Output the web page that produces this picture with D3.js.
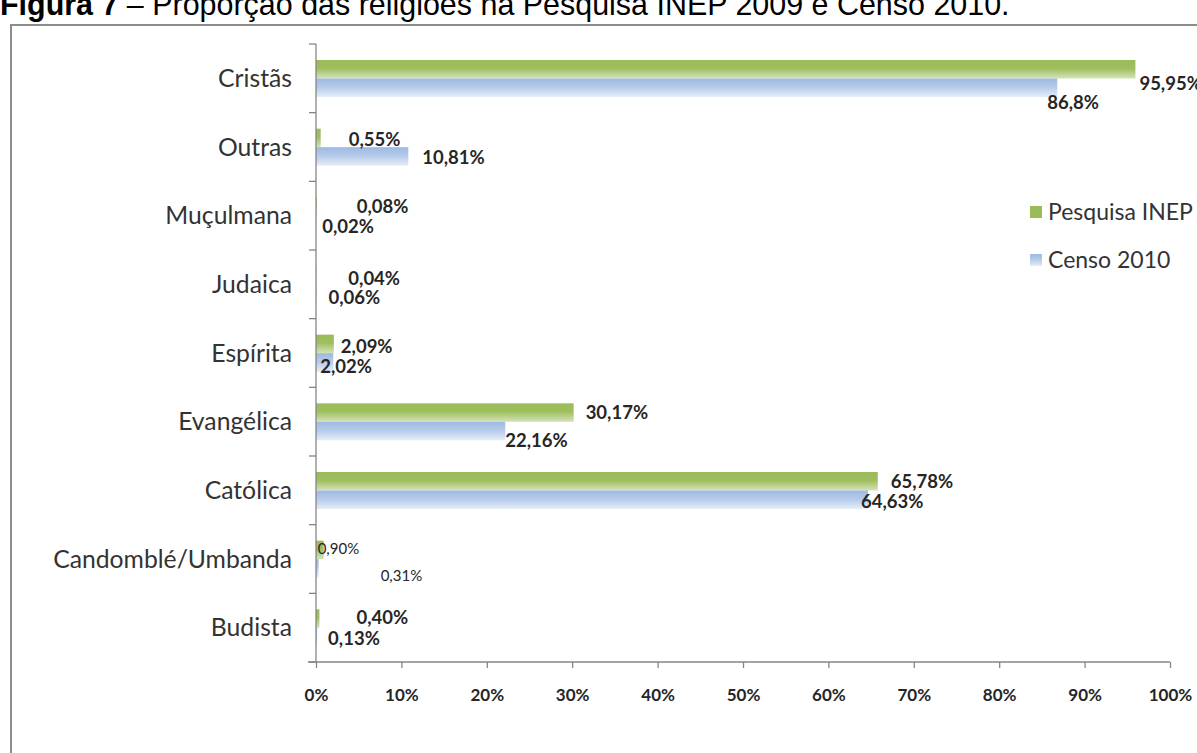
<!DOCTYPE html>
<html><head><meta charset="utf-8">
<script src="https://cdn.jsdelivr.net/npm/d3@7"></script>
<style>
html,body{margin:0;padding:0;background:#fff;overflow:hidden;}
svg{display:block;}
</style></head>
<body>
<svg id="c" width="1197" height="753"></svg>
<script>
// ---- data ----
const categories = ["Cristãs","Outras","Muçulmana","Judaica","Espírita","Evangélica","Católica","Candomblé/Umbanda","Budista"];
const seriesNames = ["Pesquisa INEP","Censo 2010"];
const inepValues  = [95.95, 0.55, 0.08, 0.04, 2.09, 30.17, 65.78, 0.90, 0.40];
const censoValues = [86.8, 10.81, 0.02, 0.06, 2.02, 22.16, 64.63, 0.31, 0.13];
const inepLabels  = ["95,95%","0,55%","0,08%","0,04%","2,09%","30,17%","65,78%","0,90%","0,40%"];
const censoLabels = ["86,8%","10,81%","0,02%","0,06%","2,02%","22,16%","64,63%","0,31%","0,13%"];
const tickValues = [0,10,20,30,40,50,60,70,80,90,100];
const tickLabels = ["0%","10%","20%","30%","40%","50%","60%","70%","80%","90%","100%"];
const titleBold = "Figura 7";
const titleRest = " – Proporção das religiões na Pesquisa INEP 2009 e Censo 2010.";

// label nudges (layout, px) relative to bar end / bar centre
const inepDx  = [4, 28, 40, 32, 7, 12, 13, -6, 37];
const inepDy  = [14, 2, 0, 3, 3, 0, 0, -1, -1];
const censoDx = [-10, 14, 6, 12, -13, 0, -7, 62, 11];
const censoDy = [15, 1, 1, 4, 4, 9, 2, 7, 1];
const smallLabel = [false,false,false,false,false,false,false,true,false];

const svg = d3.select("#c");
const defs = svg.append("defs");
function grad(id, stops){
  const g = defs.append("linearGradient").attr("id",id).attr("x1",0).attr("y1",0).attr("x2",0).attr("y2",1);
  stops.forEach(s=>g.append("stop").attr("offset",s[0]).attr("stop-color",s[1]));
}
grad("gGreen",[[0,"#9bbb59"],[0.45,"#9fbe5e"],[1,"#d5e3b9"]]);
grad("gBlue",[[0,"#9db9e2"],[0.5,"#b8cceb"],[1,"#e6edf8"]]);

// title (cut by top edge, as in the source)
const title = svg.append("text").attr("x",0).attr("y",15)
  .attr("font-family","Liberation Sans, Arial, sans-serif").attr("font-size",26).attr("fill","#000");
title.append("tspan").attr("font-weight","bold").text(titleBold);
title.append("tspan").text(titleRest);
const tw = title.node().getComputedTextLength();
title.attr("font-size", 26*1010/tw);

// frame
svg.append("rect").attr("x",11).attr("y",25).attr("width",1300).attr("height",800)
  .attr("fill","#fff").attr("stroke","#8c8c8c").attr("stroke-width",2);

const x0 = 316, x1 = 1170, yTop = 44, yBot = 662;
const x = d3.scaleLinear().domain([0,100]).range([x0,x1]);
const y = d3.scaleBand().domain(categories).range([yTop,yBot]).padding(0);
const bw = y.bandwidth();
const ys = d3.scaleBand().domain(seriesNames).range([bw*0.233, bw*0.772]).padding(0);

// category labels
const cats = svg.append("g").selectAll("text").data(categories).join("text")
  .attr("x",292).attr("y",d=>y(d)+bw/2).attr("dy","0.35em")
  .attr("text-anchor","end").attr("font-family","Lato, Open Sans, sans-serif")
  .attr("font-size",20).attr("fill","#333").text(d=>d);
const cw = cats.filter(d=>d==="Candomblé/Umbanda").node().getComputedTextLength();
cats.attr("font-size", 20*239/cw);

// bars
const bars = svg.append("g");
categories.forEach((c,i)=>{
  [[inepValues[i],"Pesquisa INEP","url(#gGreen)"],[censoValues[i],"Censo 2010","url(#gBlue)"]].forEach(([v,s,f])=>{
    bars.append("rect").attr("x",x(0)).attr("y",y(c)+ys(s))
      .attr("width",Math.max(0,x(v)-x(0))).attr("height",ys.bandwidth()).attr("fill",f);
  });
});

// axes
const axisColor = "#868686";
svg.append("line").attr("x1",x0).attr("x2",x0).attr("y1",yTop).attr("y2",yBot).attr("stroke",axisColor).attr("stroke-width",1.3);
const bounds = categories.map(c=>y(c)).concat([yBot]);
svg.append("g").selectAll("line").data(bounds).join("line")
  .attr("x1",x0-7).attr("x2",x0).attr("y1",d=>d).attr("y2",d=>d)
  .attr("stroke",axisColor).attr("stroke-width",1.3);

const xAxis = d3.axisBottom(x).tickValues(tickValues).tickSize(6).tickFormat((d,i)=>tickLabels[i]).tickPadding(21);
const gx = svg.append("g").attr("transform",`translate(0,${yBot})`).call(xAxis);
gx.select(".domain").attr("stroke",axisColor).attr("stroke-width",1.3).attr("d",`M${x0-8},0H${x1}`);
gx.selectAll(".tick line").attr("stroke",axisColor).attr("stroke-width",1.3);
gx.selectAll(".tick text").attr("font-family","Lato, sans-serif").attr("font-weight","bold")
  .attr("font-size",17).attr("fill","#262626");

// value labels
const lab = svg.append("g").attr("font-family","Lato, sans-serif").attr("fill","#262626");
categories.forEach((c,i)=>{
  const fs = smallLabel[i] ? 15 : 18.5;
  const fw = smallLabel[i] ? "normal" : "bold";
  lab.append("text").attr("x",x(inepValues[i])+inepDx[i])
    .attr("y",y(c)+ys("Pesquisa INEP")+ys.bandwidth()/2+inepDy[i]).attr("dy","0.35em")
    .attr("font-size",fs).attr("font-weight",fw).text(inepLabels[i]);
  lab.append("text").attr("x",x(censoValues[i])+censoDx[i])
    .attr("y",y(c)+ys("Censo 2010")+ys.bandwidth()/2+censoDy[i]).attr("dy","0.35em")
    .attr("font-size",fs).attr("font-weight",fw).text(censoLabels[i]);
});

// legend
const leg = svg.append("g").attr("transform","translate(1030,212)");
const legFill = ["#9bbb59","url(#gBlue)"];
seriesNames.forEach((s,i)=>{
  const g = leg.append("g").attr("transform",`translate(0,${i*48})`);
  g.append("rect").attr("x",0).attr("y",-6).attr("width",12).attr("height",12).attr("fill",legFill[i]);
  g.append("text").attr("x",18).attr("y",0).attr("dy","0.35em")
    .attr("font-family","Lato, sans-serif").attr("font-size",23).attr("fill","#333").text(s);
});
</script>
</body></html>
